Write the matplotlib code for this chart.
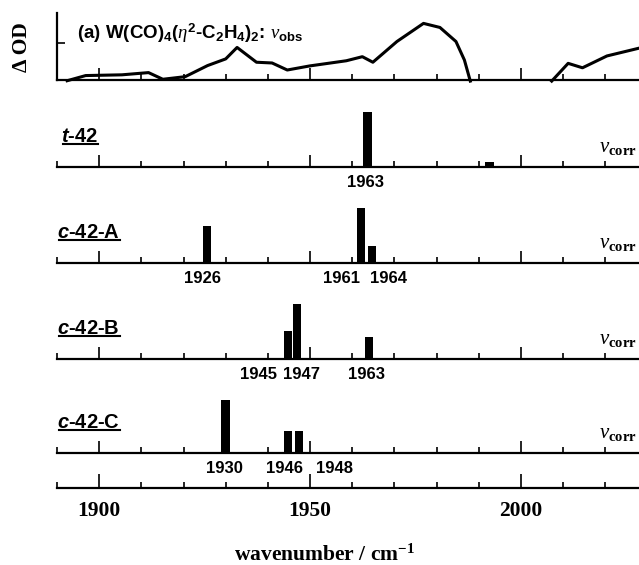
import numpy as np
import matplotlib
matplotlib.use('Agg')
import matplotlib.pyplot as plt
from matplotlib.ticker import FixedLocator, MultipleLocator
from matplotlib.lines import Line2D

plt.rcParams['mathtext.fontset'] = 'custom'
plt.rcParams['mathtext.rm'] = 'Liberation Sans:bold'
plt.rcParams['mathtext.it'] = 'Liberation Serif:italic'
plt.rcParams['mathtext.sf'] = 'Liberation Sans:bold:italic'
plt.rcParams['mathtext.tt'] = 'Liberation Serif:bold'

# observed spectrum (top trace), gap where the data is missing
obs_x = [1892.4, 1896.8, 1905.4, 1911.7, 1915.1, 1920.4, 1925.7, 1930.0, 1932.7,
         1937.3, 1941.0, 1944.6, 1949.9, 1958.6, 1962.4, 1964.9, 1970.6, 1976.9,
         1980.8, 1984.6, 1986.6, 1988.0, 1997.0, 2007.3, 2011.2, 2014.6, 2020.4, 2028.0]
obs_y = [-0.02, 0.12, 0.14, 0.20, 0.02, 0.09, 0.39, 0.57, 0.88,
         0.48, 0.46, 0.27, 0.38, 0.52, 0.63, 0.48, 1.04, 1.53,
         1.42, 1.04, 0.54, -0.03, np.nan, -0.03, 0.45, 0.33, 0.65, 0.86]

# calculated stick spectra
names = [r'$\mathsf{t}$-42', r'$\mathsf{c}$-42-A', r'$\mathsf{c}$-42-B', r'$\mathsf{c}$-42-C']
stick_x = [[1963.6, 1992.6],
           [1925.5, 1962.1, 1964.7],
           [1944.8, 1946.9, 1964.0],
           [1930.0, 1944.8, 1947.4]]
stick_h = [[1.0, 0.09],
           [0.67, 1.0, 0.31],
           [0.51, 1.0, 0.40],
           [0.96, 0.40, 0.40]]
peak_labels = [['1963'],
               ['1926', '1961', '1964'],
               ['1945', '1947', '1963'],
               ['1930', '1946', '1948']]
peak_label_x = [[1963.2],
                [1924.5, 1957.4, 1968.7],
                [1937.8, 1948.0, 1963.4],
                [1929.6, 1944.0, 1955.9]]

major_ticks = [1900, 1950, 2000]
xmin, xmax = 1890, 2028

W, H = 639, 565
fig = plt.figure(figsize=(W / 100, H / 100), dpi=100)


def make_ax(base_px, height_px):
    ax = fig.add_axes([57 / W, (H - base_px) / H, 582 / W, height_px / H])
    ax.set_xlim(xmin, xmax)
    ax.patch.set_alpha(0)
    for s in ['top', 'right', 'left']:
        ax.spines[s].set_visible(False)
    ax.spines['bottom'].set_linewidth(1.6)
    ax.xaxis.set_major_locator(FixedLocator(major_ticks))
    ax.xaxis.set_minor_locator(MultipleLocator(10))
    ax.tick_params(axis='x', which='major', direction='in', length=9, width=1.2)
    ax.tick_params(axis='x', which='minor', direction='in', length=4, width=1.2)
    ax.tick_params(axis='x', labelbottom=False)
    ax.set_yticks([])
    return ax


# top panel
ax0 = make_ax(80, 67)
ax0.set_ylim(0, 67 / 37)
ax0.spines['left'].set_visible(True)
ax0.spines['left'].set_linewidth(1.6)
ax0.set_yticks([1])
ax0.tick_params(axis='y', direction='in', length=6, width=1.2, labelleft=False)
ax0.plot(obs_x, obs_y, color='black', lw=2.2, clip_on=False)
ax0.text(0.035, 0.70,
         r'(a) W(CO)$_4$($\eta^2$-C$_2$H$_4$)$_2$: $\nu_{\mathrm{obs}}$',
         transform=ax0.transAxes, fontsize=13.5, fontweight='bold',
         family='Liberation Sans', va='center', ha='left')
fig.text(22 / W, (H - 47) / H, 'Δ OD', rotation=90, family='Liberation Serif',
         fontweight='bold', fontsize=15.5, ha='center', va='center')

# stick panels
bases = [167, 263, 359, 453]
name_x = [61, 57, 57, 57]
name_texts = []
for i in range(4):
    ax = make_ax(bases[i], 62)
    ax.set_ylim(0, 62 / 55)
    ax.bar(stick_x[i], stick_h[i], width=2.0, color='black')
    for lab, lx in zip(peak_labels[i], peak_label_x[i]):
        ax.annotate(lab, (lx, 0), xytext=(0, -11.5), textcoords='offset points',
                    ha='center', va='center', fontsize=12, fontweight='bold',
                    family='Liberation Sans')
    t = fig.text(name_x[i] / W, (H - bases[i] + 31) / H, names[i], fontsize=14.5,
                 fontweight='bold', family='Liberation Sans', ha='left',
                 va='center')
    name_texts.append(t)
    ax.text(637 / W, (H - bases[i] + 20) / H, r'$\nu_{\mathtt{corr}}$',
            transform=fig.transFigure, fontsize=15, ha='right', va='center')

# bottom axis
axb = make_ax(488, 10)
axb.tick_params(axis='x', which='major', length=10)
axb.tick_params(axis='x', labelbottom=True, pad=9, labelsize=15.5)
for lbl in axb.get_xticklabels():
    lbl.set_family('Liberation Serif')
    lbl.set_fontweight('bold')
fig.text(325 / W, (H - 555) / H, 'wavenumber / cm$^{\\mathtt{-1}}$',
         family='Liberation Serif', fontweight='bold', fontsize=15.5,
         ha='center', va='center')

# underline the structure names
fig.canvas.draw()
r = fig.canvas.get_renderer()
for t in name_texts:
    bb = t.get_window_extent(r).transformed(fig.transFigure.inverted())
    y = bb.y0 + 2 / H
    fig.add_artist(Line2D([bb.x0 + 2 / W, bb.x1], [y, y], transform=fig.transFigure,
                          color='black', lw=1.5))

fig.savefig('out.png', dpi=100)
